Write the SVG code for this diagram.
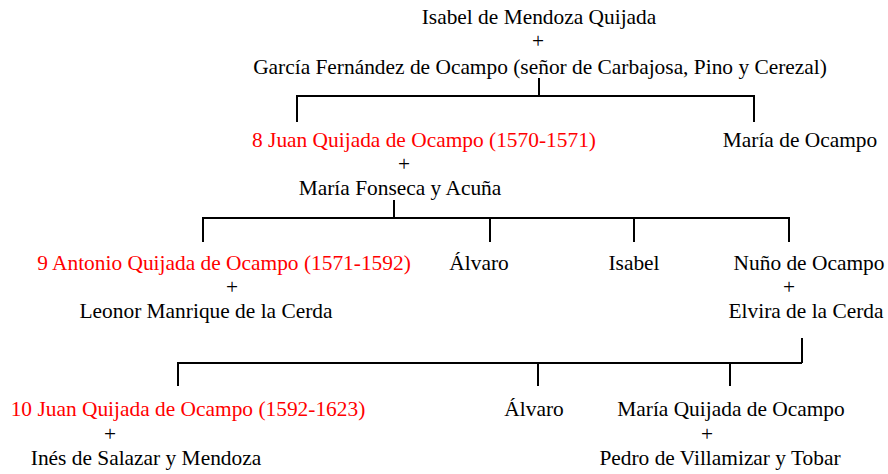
<svg xmlns="http://www.w3.org/2000/svg" width="888" height="474" viewBox="0 0 888 474">
<style>
text{font-family:"Liberation Serif","Times New Roman",serif;font-size:21.4px;text-anchor:middle;fill:#000}
.r{fill:#ff0000}
.c{stroke:#000;stroke-width:2;fill:none}
</style>
<rect width="888" height="474" fill="#fff"/>
<g id="connectors">
<path class="c" d="M539 78V96M297 122V96H754V122"/>
<path class="c" d="M394 200V218M203 242V218H789V242M490 218V242M634 218V242"/>
<path class="c" d="M802 338V363M178 386V363H802M538 363V386M730 363V386"/>
</g>
<g id="n1"><text x="539" y="24">Isabel de Mendoza Quijada</text><text x="538" y="48">+</text><text x="540" y="74">García Fernández de Ocampo (señor de Carbajosa, Pino y Cerezal)</text></g>
<g id="n2"><text class="r" x="424" y="147">8 Juan Quijada de Ocampo (1570-1571)</text><text x="404" y="171">+</text><text x="400" y="195">María Fonseca y Acuña</text></g>
<g id="n3"><text x="800" y="147">María de Ocampo</text></g>
<g id="n4"><text class="r" x="224" y="270">9 Antonio Quijada de Ocampo (1571-1592)</text><text x="232" y="294">+</text><text x="206" y="318">Leonor Manrique de la Cerda</text></g>
<g id="n5"><text x="479" y="270">Álvaro</text></g>
<g id="n6"><text x="634" y="270">Isabel</text></g>
<g id="n7"><text x="809" y="270">Nuño de Ocampo</text><text x="789" y="294">+</text><text x="806" y="318">Elvira de la Cerda</text></g>
<g id="n8"><text class="r" x="188" y="416">10 Juan Quijada de Ocampo (1592-1623)</text><text x="110" y="441">+</text><text x="146" y="465">Inés de Salazar y Mendoza</text></g>
<g id="n9"><text x="534" y="416">Álvaro</text></g>
<g id="n10"><text x="731" y="416">María Quijada de Ocampo</text><text x="707" y="441">+</text><text x="720" y="465">Pedro de Villamizar y Tobar</text></g>
</svg>
